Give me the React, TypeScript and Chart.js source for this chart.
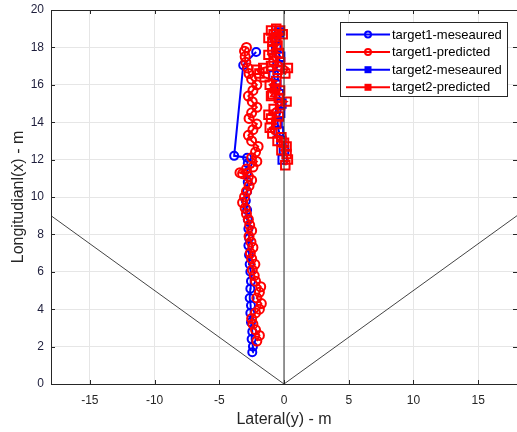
import React, { useEffect, useRef } from "react";
import { Chart, registerables } from "chart.js";

Chart.register(...registerables);

const xTicks = [-15, -10, -5, 0, 5, 10, 15];
const yTicks = [0, 2, 4, 6, 8, 10, 12, 14, 16, 18, 20];

const seriesNames = [
  "target1-meseaured",
  "target1-predicted",
  "target2-meseaured",
  "target2-predicted",
];

const target1Measured: [number, number][] = [
  [-2.45, 1.7], [-2.4, 2.0], [-2.5, 2.4], [-2.45, 2.8], [-2.55, 3.3], [-2.6, 3.8],
  [-2.55, 4.2], [-2.65, 4.6], [-2.6, 5.1], [-2.55, 5.5], [-2.6, 6.0], [-2.65, 6.4],
  [-2.7, 6.9], [-2.75, 7.4], [-2.7, 7.8], [-2.75, 8.3], [-2.8, 8.8], [-2.85, 9.3],
  [-2.95, 9.8], [-2.85, 10.3], [-2.8, 10.8], [-2.85, 11.3], [-2.8, 11.8], [-2.85, 12.1],
  [-3.85, 12.2], [-3.15, 17.05], [-2.15, 17.75],
];

const target1Predicted: [number, number][] = [
  [-2.1, 2.3], [-1.9, 2.6], [-2.2, 2.9], [-2.4, 3.2], [-2.5, 3.5], [-2.2, 3.8],
  [-1.9, 4.0], [-1.75, 4.3], [-2.1, 4.6], [-1.9, 4.9], [-1.8, 5.2], [-2.2, 5.5],
  [-2.3, 5.8], [-2.45, 6.1], [-2.25, 6.4], [-2.5, 6.7], [-2.6, 7.0], [-2.4, 7.3],
  [-2.55, 7.6], [-2.7, 7.9], [-2.5, 8.2], [-2.65, 8.5], [-2.75, 8.8], [-2.9, 9.1],
  [-3.0, 9.4], [-3.2, 9.7], [-3.05, 10.0], [-2.9, 10.3], [-2.7, 10.6], [-2.5, 10.9],
  [-2.75, 11.1], [-3.2, 11.25], [-3.4, 11.3], [-2.9, 11.5], [-2.4, 11.6], [-2.1, 11.9],
  [-2.5, 12.1], [-2.2, 12.4], [-2.0, 12.7], [-2.5, 13.0], [-2.75, 13.3], [-2.4, 13.6],
  [-2.1, 13.9], [-2.7, 14.2], [-2.5, 14.5], [-2.1, 14.8], [-2.45, 15.1], [-2.75, 15.4],
  [-2.4, 15.7], [-2.1, 16.0], [-2.5, 16.3], [-2.7, 16.6], [-2.8, 16.9], [-2.95, 17.2],
  [-3.0, 17.5], [-3.05, 17.8], [-2.9, 18.0],
];

const target2Measured: [number, number][] = [
  [-0.1, 12.0], [0.0, 12.5], [-0.2, 13.0], [-0.4, 13.5], [-0.5, 14.0], [-0.3, 14.5],
  [-0.2, 15.0], [-0.4, 15.5], [-0.6, 16.0], [-0.8, 16.5], [-0.5, 17.0], [-0.3, 17.5],
  [-0.6, 18.0], [-0.7, 18.5], [-0.4, 18.8],
];

const target2Predicted: [number, number][] = [
  [0.1, 11.7], [0.3, 12.0], [0.2, 12.3], [-0.2, 12.5], [0.2, 12.7], [0.0, 12.9],
  [-0.5, 13.0], [-0.2, 13.2], [-0.9, 13.4], [-1.1, 13.7], [-0.6, 13.9], [-1.0, 14.2],
  [-0.4, 14.3], [-1.2, 14.4], [-0.8, 14.7], [-0.3, 14.9], [0.2, 15.1], [-0.4, 15.3],
  [-1.0, 15.4], [-0.9, 15.5], [-0.3, 15.7], [-0.7, 15.8], [-1.1, 16.0], [-0.6, 16.2],
  [-1.5, 16.4], [-1.9, 16.6], [-2.1, 16.8], [-1.6, 16.9], [-1.0, 17.0], [-0.5, 16.8],
  [0.1, 16.6], [0.3, 16.9], [-0.3, 17.2], [-0.8, 17.3], [-1.2, 17.6], [-0.4, 17.7],
  [-0.9, 17.9], [-0.5, 18.1], [-0.9, 18.3], [-1.2, 18.5], [-0.8, 18.7], [-0.3, 18.9],
  [-0.1, 18.7], [-0.6, 18.4], [-1.0, 18.9], [-0.6, 19.0],
];

const centerLine: [number, number][] = [[0, 0], [0, 20]];
const fovLine: [number, number][] = [[-18, 9], [0, 0], [18, 9]];

const BLUE = "#0000ff";
const RED = "#ff0000";
const FONT = "'Liberation Sans', Arial, sans-serif";

const toPts = (a: [number, number][]) => a.map(([x, y]) => ({ x, y }));

const legendItems = [
  { label: seriesNames[0], color: BLUE, style: "circle" },
  { label: seriesNames[1], color: RED, style: "circle" },
  { label: seriesNames[2], color: BLUE, style: "rect" },
  { label: seriesNames[3], color: RED, style: "rect" },
];

const framePlugin = {
  id: "matlabFrame",
  afterDatasetsDraw(chart: any) {
    const { ctx, chartArea: a, scales } = chart;
    ctx.save();
    ctx.strokeStyle = "#262626";
    ctx.lineWidth = 1;
    ctx.beginPath();
    for (const v of xTicks) {
      const px = Math.round(scales.x.getPixelForValue(v)) + 0.5;
      ctx.moveTo(px, a.bottom);
      ctx.lineTo(px, a.bottom - 4);
      ctx.moveTo(px, a.top);
      ctx.lineTo(px, a.top + 4);
    }
    for (const v of yTicks) {
      const py = Math.round(scales.y.getPixelForValue(v)) + 0.5;
      ctx.moveTo(a.left, py);
      ctx.lineTo(a.left + 4, py);
      ctx.moveTo(a.right, py);
      ctx.lineTo(a.right - 4, py);
    }
    ctx.stroke();
    ctx.strokeStyle = "#262626";
    ctx.strokeRect(Math.round(a.left) + 0.5, Math.round(a.top) + 0.5,
      Math.round(a.right - a.left), Math.round(a.bottom - a.top));

    const bx = 340.5, by = 22.5, bw = 167, bh = 74;
    ctx.fillStyle = "#ffffff";
    ctx.fillRect(bx, by, bw, bh);
    ctx.strokeStyle = "#262626";
    ctx.lineWidth = 1;
    ctx.strokeRect(bx, by, bw, bh);
    ctx.font = `13px ${FONT}`;
    ctx.textBaseline = "middle";
    legendItems.forEach((it, i) => {
      const y = 34.5 + i * 17.6;
      ctx.strokeStyle = it.color;
      ctx.lineWidth = 2;
      ctx.beginPath();
      ctx.moveTo(346, y);
      ctx.lineTo(390, y);
      ctx.stroke();
      if (it.style === "circle") {
        ctx.beginPath();
        ctx.arc(368, y, 3, 0, Math.PI * 2);
        ctx.stroke();
      } else {
        ctx.fillStyle = it.color;
        ctx.fillRect(364.5, y - 3.5, 7, 7);
      }
      ctx.fillStyle = "#000000";
      ctx.fillText(it.label, 392, y + 0.5);
    });
    ctx.restore();
  },
};

const markerSet = (color: string, style: string, r: number, order: number) => ({
  borderColor: color,
  borderWidth: 2,
  pointStyle: style,
  pointRadius: r,
  pointHoverRadius: r,
  pointBorderWidth: 2,
  pointBorderColor: color,
  pointBackgroundColor: "rgba(0,0,0,0)",
  order,
});

export default function App() {
  const ref = useRef<HTMLCanvasElement>(null);

  useEffect(() => {
    document.body.style.margin = "0";
    const canvas = ref.current;
    if (!canvas) return;
    const chart = new Chart(canvas, {
      type: "line",
      data: {
        datasets: [
          {
            label: "center",
            data: toPts(centerLine),
            borderColor: "#333333",
            borderWidth: 1,
            pointRadius: 0,
            pointHoverRadius: 0,
            order: -2,
          },
          {
            label: "fov",
            data: toPts(fovLine),
            borderColor: "#444444",
            borderWidth: 1,
            pointRadius: 0,
            pointHoverRadius: 0,
            order: -1,
          },
          { label: seriesNames[0], data: toPts(target1Measured), ...markerSet(BLUE, "circle", 4, 4) },
          { label: seriesNames[1], data: toPts(target1Predicted), ...markerSet(RED, "circle", 4.5, 3) },
          { label: seriesNames[2], data: toPts(target2Measured), ...markerSet(BLUE, "rect", 6, 2) },
          { label: seriesNames[3], data: toPts(target2Predicted), ...markerSet(RED, "rect", 6, 1) },
        ] as any,
      },
      options: {
        animation: false,
        responsive: false,
        parsing: false as any,
        layout: { autoPadding: false, padding: { top: 10, right: 0, left: 0, bottom: 0 } },
        plugins: { legend: { display: false }, tooltip: { enabled: false } },
        elements: { line: { tension: 0 } },
        scales: {
          x: {
            type: "linear",
            min: -18,
            max: 18,
            afterBuildTicks: (s: any) => {
              s.ticks = xTicks.map((v) => ({ value: v }));
            },
            afterFit: (s: any) => {
              s.height = 48;
              s.paddingLeft = 0;
              s.paddingRight = 0;
              s.paddingTop = 0;
              s.paddingBottom = 0;
            },
            grid: { color: "#e6e6e6", drawTicks: false },
            border: { display: false },
            ticks: {
              font: { family: FONT, size: 12 },
              color: "#262626",
              padding: 9,
              maxRotation: 0,
            },
            title: {
              display: true,
              text: "Lateral(y) - m",
              font: { family: FONT, size: 16 },
              color: "#262626",
              padding: { top: 0, bottom: 3 },
            },
          },
          y: {
            type: "linear",
            min: 0,
            max: 20,
            afterBuildTicks: (s: any) => {
              s.ticks = yTicks.map((v) => ({ value: v }));
            },
            afterFit: (s: any) => {
              s.width = 51;
              s.paddingLeft = 0;
              s.paddingRight = 0;
              s.paddingTop = 0;
              s.paddingBottom = 0;
            },
            grid: { color: "#e6e6e6", drawTicks: false },
            border: { display: false },
            ticks: {
              font: { family: FONT, size: 12 },
              color: "#1e1e3c",
              padding: 7,
            },
            title: {
              display: true,
              text: "Longitudianl(x) - m",
              font: { family: FONT, size: 16 },
              color: "#262626",
              padding: { top: 9, bottom: 0 },
            },
          },
        },
      },
      plugins: [framePlugin],
    });
    return () => chart.destroy();
  }, []);

  return (
    <div style={{ position: "absolute", left: 0, top: 0, width: 517, height: 432, background: "#fff" }}>
      <canvas ref={ref} width={517} height={432} style={{ display: "block" }} />
    </div>
  );
}
